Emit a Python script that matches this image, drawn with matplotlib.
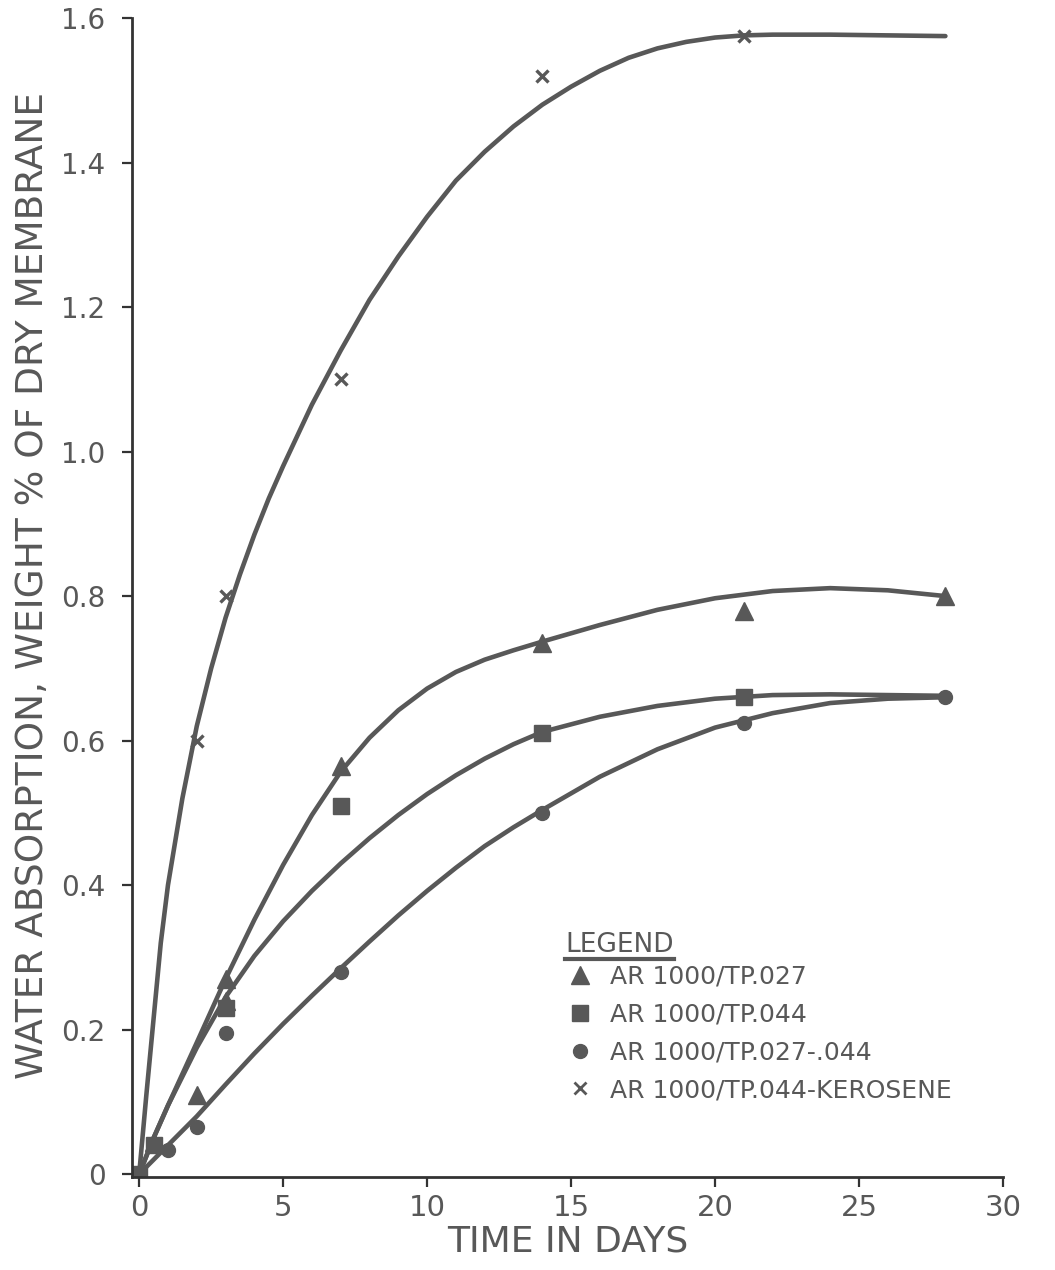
import numpy as np
import matplotlib
matplotlib.use("Agg")
import matplotlib.pyplot as plt
from matplotlib.lines import Line2D

# smooth curves as drawn (days, weight %)
kero_cx = [0, 0.25, 0.5, 0.75, 1, 1.5, 2, 2.5, 3, 3.5, 4, 4.5, 5, 6, 7, 8, 9, 10, 11, 12, 13, 14, 15,
           16, 17, 18, 19, 20, 21, 22, 24, 26, 28]
kero_cy = [0, 0.11, 0.215, 0.32, 0.40, 0.52, 0.62, 0.70, 0.77, 0.83, 0.885, 0.935, 0.98, 1.065, 1.14, 1.21,
           1.27, 1.325, 1.375, 1.415, 1.45, 1.48, 1.505, 1.527, 1.545, 1.558, 1.567, 1.573, 1.576, 1.577,
           1.577, 1.576, 1.575]
days_c = [0, 0.5, 1, 2, 3, 4, 5, 6, 7, 8, 9, 10, 11, 12, 13, 14, 16, 18, 20, 22, 24, 26, 28]
tri_cy = [0, 0.05, 0.095, 0.182, 0.27, 0.352, 0.428, 0.497, 0.557, 0.604, 0.642, 0.672, 0.695, 0.712, 0.725,
          0.737, 0.76, 0.781, 0.797, 0.807, 0.811, 0.808, 0.80]
sq_cy = [0, 0.05, 0.095, 0.175, 0.245, 0.302, 0.35, 0.392, 0.43, 0.465, 0.497, 0.526, 0.552, 0.575, 0.595,
         0.612, 0.633, 0.648, 0.658, 0.663, 0.664, 0.663, 0.662]
circ_cy = [0, 0.02, 0.04, 0.08, 0.124, 0.167, 0.208, 0.247, 0.285, 0.322, 0.358, 0.392, 0.424, 0.454, 0.48,
           0.504, 0.55, 0.588, 0.618, 0.638, 0.652, 0.658, 0.66]

# measured points
tri_x = [0, 0.5, 2, 3, 3, 7, 14, 21, 28]
tri_y = [0, 0.045, 0.11, 0.27, 0.24, 0.565, 0.735, 0.78, 0.80]
sq_x = [0, 0.5, 3, 7, 14, 21]
sq_y = [0, 0.04, 0.23, 0.51, 0.61, 0.66]
circ_x = [0, 1, 2, 3, 7, 14, 21, 28]
circ_y = [0, 0.033, 0.065, 0.195, 0.28, 0.50, 0.625, 0.66]
kero_x = [0, 2, 3, 7, 14, 21]
kero_y = [0, 0.6, 0.8, 1.1, 1.52, 1.575]

labels = ["AR 1000/TP.027", "AR 1000/TP.044", "AR 1000/TP.027-.044", "AR 1000/TP.044-KEROSENE"]
xticks = [0, 5, 10, 15, 20, 25, 30]
yticks = [0, 0.2, 0.4, 0.6, 0.8, 1.0, 1.2, 1.4, 1.6]
yticklabels = ["0", "0.2", "0.4", "0.6", "0.8", "1.0", "1.2", "1.4", "1.6"]

ink = "#585858"
axc = "#333333"

fig = plt.figure(figsize=(10.55, 12.7), dpi=100)
ax = fig.add_axes([0.1251, 0.0732, 0.8256, 0.9126])

lw = 3.3
for cx, cy in [(kero_cx, kero_cy), (days_c, tri_cy), (days_c, sq_cy), (days_c, circ_cy)]:
    ax.plot(cx, cy, color=ink, lw=lw, solid_capstyle="round", solid_joinstyle="round")

ax.plot(tri_x, tri_y, ls="none", marker="^", ms=13, color=ink)
ax.plot(sq_x, sq_y, ls="none", marker="s", ms=11, color=ink)
ax.plot(circ_x, circ_y, ls="none", marker="o", ms=10, color=ink)
ax.plot(kero_x, kero_y, ls="none", marker="x", ms=9, mew=2.4, color=ink)

ax.set_xlim(-0.25, 30)
ax.set_ylim(-0.004, 1.6)
for s in ["top", "right"]:
    ax.spines[s].set_visible(False)
for s in ["left", "bottom"]:
    ax.spines[s].set_color(axc)
    ax.spines[s].set_linewidth(2.0)

ax.set_xticks(xticks)
ax.set_yticks(yticks)
ax.set_yticklabels(yticklabels)
ax.tick_params(axis="both", direction="out", length=7, width=1.6, color=axc, labelcolor=ink)
ax.tick_params(axis="x", labelsize=21, pad=5)
ax.tick_params(axis="y", labelsize=20, pad=12)

ax.set_xlabel("TIME IN DAYS", fontsize=26, color=ink, labelpad=2)
ax.set_ylabel("WATER ABSORPTION, WEIGHT % OF DRY MEMBRANE", fontsize=27, color=ink)
ax.yaxis.set_label_coords(-0.093, 0.51)

handles = [
    Line2D([], [], ls="none", marker="^", ms=13, color=ink),
    Line2D([], [], ls="none", marker="s", ms=11, color=ink),
    Line2D([], [], ls="none", marker="o", ms=10, color=ink),
    Line2D([], [], ls="none", marker="x", ms=8, mew=2, color=ink),
]
leg = fig.legend(handles, labels, title="LEGEND", loc="upper left",
                 bbox_to_anchor=(555 / 1055, 1 - 922 / 1270), frameon=False,
                 fontsize=18, title_fontsize=19, handletextpad=0.6, handlelength=1.2,
                 labelspacing=0.55, borderaxespad=0)
leg._legend_box.align = "left"
leg._legend_box.sep = 5
for t in leg.get_texts():
    t.set_color(ink)
leg.get_title().set_color(ink)

# underline the legend title
fig.canvas.draw()
bb = leg.get_title().get_window_extent().transformed(fig.transFigure.inverted())
fig.add_artist(Line2D([bb.x0, bb.x1], [bb.y0 - 0.0005, bb.y0 - 0.0005], color=ink, lw=3,
                      transform=fig.transFigure))

fig.savefig("out.png", dpi=100)
